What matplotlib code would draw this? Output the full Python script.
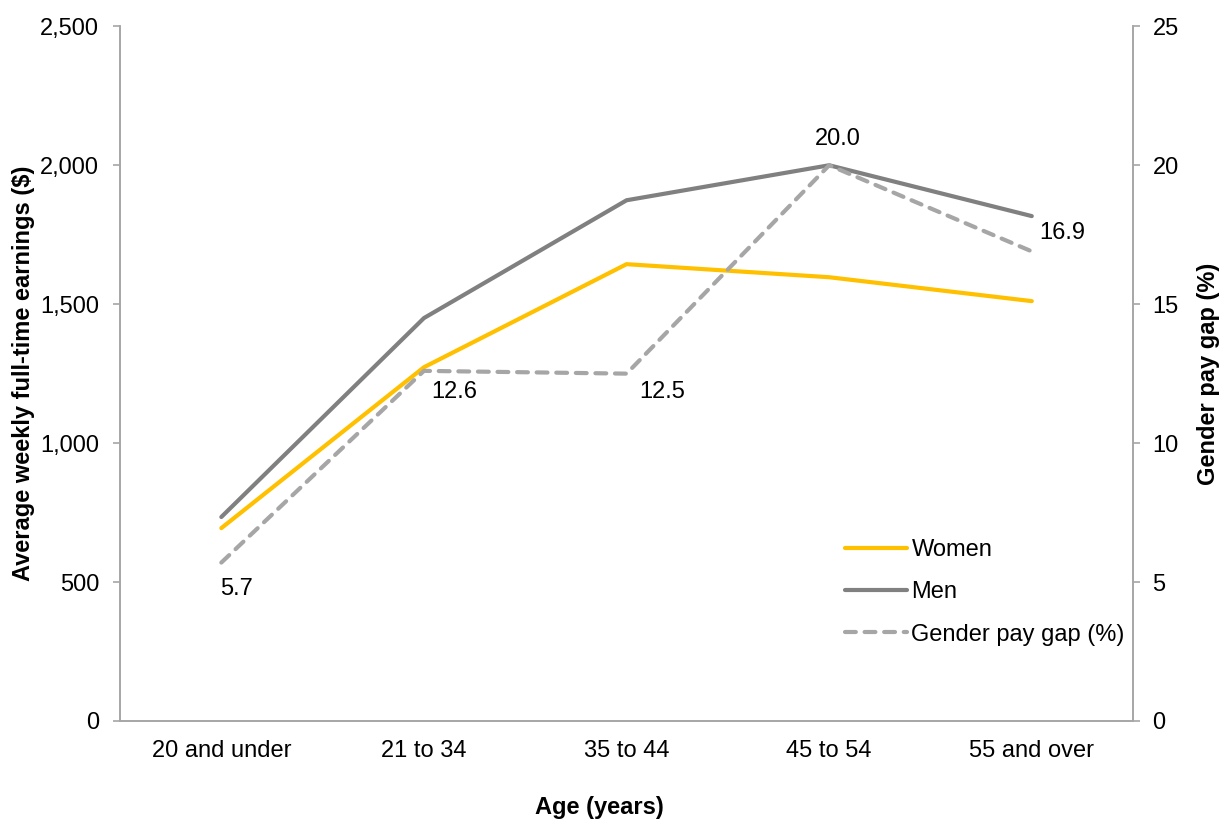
import matplotlib.pyplot as plt
from matplotlib.ticker import FuncFormatter

plt.rcParams['font.family'] = ['Liberation Sans', 'DejaVu Sans']

# data
ages = ['20 and under', '21 to 34', '35 to 44', '45 to 54', '55 and over']
women = [694, 1273, 1644, 1597, 1511]
men = [734, 1450, 1874, 2000, 1817]
gap = [5.7, 12.6, 12.5, 20.0, 16.9]

spine_col = '#A6A6A6'
fs = 17

fig = plt.figure(figsize=(12.21, 8.23), dpi=100)
ax = fig.add_axes([0.0983, 0.124, 0.8297, 0.844])
ax2 = ax.twinx()

x = list(range(len(ages)))
l1, = ax.plot(x, women, color='#FFC000', lw=3, label='Women', solid_capstyle='round')
l2, = ax.plot(x, men, color='#808080', lw=3, label='Men', solid_capstyle='round')
l3, = ax2.plot(x, gap, color='#A6A6A6', lw=3, ls=(0, (2.6, 2.1)), dash_capstyle='round',
               label='Gender pay gap (%)')

ax.set_xlim(-0.5, 4.5)
ax.set_ylim(0, 2500)
ax2.set_ylim(0, 25)
ax.set_yticks(range(0, 2501, 500))
ax2.set_yticks(range(0, 26, 5))
ax.yaxis.set_major_formatter(FuncFormatter(lambda v, p: f'{v:,.0f}'))
ax.set_xticks(x)
ax.set_xticklabels(ages)

for a in (ax, ax2):
    a.spines['top'].set_visible(False)
    for s in ('left', 'right', 'bottom'):
        a.spines[s].set_color(spine_col)
        a.spines[s].set_linewidth(1.2)
    a.tick_params(axis='y', colors=spine_col, labelcolor='black', labelsize=fs, length=5, width=1.2)
ax.tick_params(axis='y', pad=10)
ax2.tick_params(axis='y', pad=9)
ax.tick_params(axis='x', length=0, labelsize=fs, pad=14)

ax.set_xlabel('Age (years)', fontsize=fs, fontweight='bold')
ax.xaxis.set_label_coords(0.473, -0.108)
ax.set_ylabel('Average weekly full-time earnings ($)', fontsize=fs, fontweight='bold', labelpad=4)
ax2.set_ylabel('Gender pay gap (%)', fontsize=fs, fontweight='bold', labelpad=13)

# data labels for the gap
offsets = [(11, -19), (22, -15), (26, -13), (6, 19), (22, 13)]
for i, v in enumerate(gap):
    dx, dy = offsets[i]
    ax2.annotate(f'{v:.1f}', (i, v), xytext=(dx, dy), textcoords='offset points',
                 ha='center', va='center', fontsize=fs)

ax.legend(handles=[l1, l2, l3], loc='upper left', bbox_to_anchor=(0.716, 0.262),
          frameon=False, fontsize=fs, handlelength=2.6, handletextpad=0.2,
          labelspacing=0.86, borderaxespad=0, borderpad=0)

fig.savefig('out.png', dpi=100)
